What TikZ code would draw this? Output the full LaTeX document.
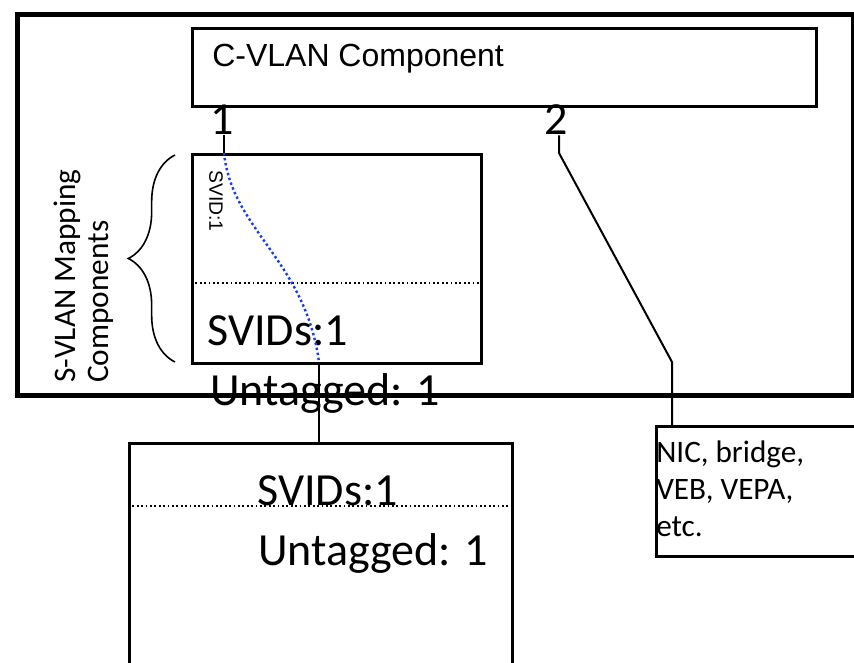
\documentclass[tikz,border=0pt]{standalone}
\usepackage{fontspec}
\setmainfont{Carlito}
\newfontfamily\arialfont{Liberation Sans}
\usetikzlibrary{decorations.pathreplacing}

\definecolor{svidblue}{RGB}{20,60,240}

\tikzset{
  box/.style={draw, line width=2.4pt, inner sep=0pt, anchor=north west},
  wire/.style={line width=1.5pt},
  sepline/.style={line width=1.3pt, dotted},
  bigtxt/.style={inner sep=0pt, font=\fontsize{34.5}{40}\selectfont},
}

\begin{document}
\begin{tikzpicture}[x=0.75pt, y=-0.75pt]
    \useasboundingbox (0,0) rectangle (854,663);
    \clip (0,0) rectangle (854,663);
    \fill[white] (0,0) rectangle (854,663);

    \node[box, line width=3.8pt, minimum width=627pt, minimum height=285.75pt] (outer) at (15,12) {};
    \node[box, minimum width=468pt, minimum height=58.5pt] (cvlan) at (191,27) {};
    \node[box, minimum width=216.75pt, minimum height=156.75pt] (svlan) at (191,153) {};
    \node[box, line width=2pt, minimum width=287.25pt, minimum height=200pt] (lowerbr) at (128,442) {};
    \node[box, line width=2pt, minimum width=165pt, minimum height=97.5pt] (nic) at (655,425) {};

    \node[inner sep=0pt, anchor=base west, font=\arialfont\fontsize{24}{28}\selectfont] (cvlanlbl) at (212,67) {C-VLAN Component};
    \node[bigtxt, anchor=base] (pone) at (222,135) {1};
    \node[bigtxt, anchor=base] (ptwo) at (556,135) {2};

    \draw[sepline] (svlan.west |- 0,283) -- (svlan.east |- 0,283);
    \draw[sepline] (lowerbr.west |- 0,506) -- (lowerbr.east |- 0,506);

    \node[inner sep=0pt, rotate=-90, font=\arialfont\fontsize{14.5}{17}\selectfont] (svidrot) at (216,201) {SVID:1};
    \node[bigtxt, anchor=base west] (svidsup) at (207,345) {SVIDs:1};
    \node[bigtxt, anchor=base west] (untagup) at (210,405) {Untagged: 1};
    \node[bigtxt, anchor=base west] (svidslow) at (257,505) {SVIDs:1};
    \node[bigtxt, anchor=base west] (untaglow) at (258,565) {Untagged: 1};

    \node[inner sep=0pt, anchor=north west, align=left, font=\fontsize{23.4}{27.75}\selectfont] (nictxt) at (656,441) {NIC, bridge,\\VEB, VEPA,\\etc.};

    \node[inner sep=0pt, anchor=north west, rotate=90, align=left, font=\fontsize{23.5}{24.75}\selectfont] (mapping) at (54,383) {S-VLAN Mapping\\Components};
    \draw[decorate, decoration={brace, amplitude=35pt}, line width=1.2pt] (175,362) -- (175,155);

    \coordinate (svtop) at (224,153);
    \coordinate (svbot) at (319,362);
    \coordinate (bendA) at (559,153);
    \coordinate (bendB) at (672,362);

    \draw[wire] (pone.south -| svtop) -- (svtop);
    \draw[line width=1.8pt, dotted, svidblue] (svtop) .. controls (232,230) and (305,260) .. (svbot);
    \draw[wire] (svbot) -- (lowerbr.north -| svbot);
    \draw[wire] (ptwo.south -| bendA) -- (bendA) -- (bendB) -- (nic.north -| bendB);
\end{tikzpicture}
\end{document}
